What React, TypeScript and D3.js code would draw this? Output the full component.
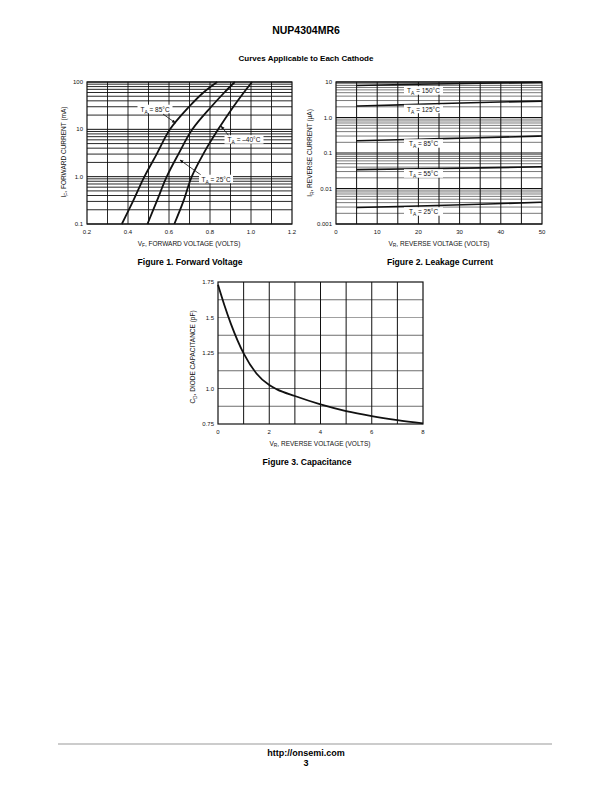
import React, { useEffect, useRef } from "react";
import * as d3 from "d3";

const FONT = "'Liberation Sans', Arial, Helvetica, sans-serif";

// Figure 1: forward voltage (V) read at each forward current (mA)
const fwdCurrent = [0.1, 0.3, 1, 3, 10, 30, 60, 100];
const fwdVolt85 = [0.37, 0.424, 0.48, 0.54, 0.605, 0.698, 0.768, 0.835];
const fwdVolt25 = [0.495, 0.54, 0.589, 0.646, 0.714, 0.806, 0.87, 0.921];
const fwdVoltM40 = [0.626, 0.67, 0.711, 0.767, 0.84, 0.914, 0.965, 1.005];
const fwdXTicks = [0.2, 0.4, 0.6, 0.8, 1.0, 1.2];
const fwdYTicks = [0.1, 1, 10, 100];
const fwdYLabels = ["0.1", "1.0", "10", "100"];

// Figure 2: leakage current (uA) vs reverse voltage
const leakVolt = [5, 20, 35, 50];
const leak150 = [8.0, 8.6, 9.2, 9.8];
const leak125 = [2.1, 2.35, 2.65, 2.9];
const leak85 = [0.222, 0.245, 0.27, 0.3];
const leak55 = [0.034, 0.036, 0.038, 0.041];
const leak25 = [0.0029, 0.0032, 0.0036, 0.0041];
const leakTemps = ["150", "125", "85", "55", "25"];
const leakXTicks = [0, 10, 20, 30, 40, 50];
const leakYTicks = [0.001, 0.01, 0.1, 1, 10];
const leakYLabels = ["0.001", "0.01", "0.1", "1.0", "10"];

// Figure 3: capacitance (pF) vs reverse voltage
const capVolt = [0, 0.25, 0.5, 1, 1.5, 2, 2.3, 3, 4, 5, 6, 7, 8];
const capPf = [1.73, 1.586, 1.457, 1.247, 1.106, 1.024, 0.994, 0.947, 0.888, 0.841, 0.806, 0.778, 0.755];
const capXTicks = [0, 2, 4, 6, 8];
const capYTicks = [0.75, 1.0, 1.25, 1.5, 1.75];
const capYLabels = ["0.75", "1.0", "1.25", "1.5", "1.75"];

// text with a subscript, e.g. T_A = 85°C
const subText = (g, x, y, main, sub, rest, size, anchor = "middle", rotate = false) => {
  const t = g
    .append("text")
    .attr("x", x)
    .attr("y", y)
    .attr("text-anchor", anchor)
    .attr("font-family", FONT)
    .attr("font-size", size)
    .attr("fill", "#111");
  if (rotate) t.attr("transform", `rotate(-90,${x},${y})`);
  t.append("tspan").text(main);
  t.append("tspan").attr("dy", size * 0.3).attr("font-size", size * 0.75).text(sub);
  t.append("tspan").attr("dy", -size * 0.3).text(rest);
  return t;
};

const logMinor = (lo, hi) => {
  const vals = [];
  for (let d = lo; d < hi; d *= 10) {
    for (let k = 2; k <= 9; k++) vals.push(d * k);
  }
  return vals;
};

const App = () => {
  const ref = useRef(null);

  useEffect(() => {
    const svg = d3.select(ref.current);
    svg.selectAll("*").remove();

    svg
      .append("defs")
      .append("marker")
      .attr("id", "arr")
      .attr("viewBox", "0 0 10 10")
      .attr("refX", 9)
      .attr("refY", 5)
      .attr("markerWidth", 5)
      .attr("markerHeight", 5)
      .attr("orient", "auto")
      .append("path")
      .attr("d", "M0,1 L10,5 L0,9 Z")
      .attr("fill", "#111");

    //// Header
    svg
      .append("text")
      .attr("x", 306)
      .attr("y", 34)
      .attr("text-anchor", "middle")
      .attr("font-family", FONT)
      .attr("font-weight", "bold")
      .attr("font-size", 10.5)
      .text("NUP4304MR6");
    svg
      .append("text")
      .attr("x", 306)
      .attr("y", 61)
      .attr("text-anchor", "middle")
      .attr("font-family", FONT)
      .attr("font-weight", "bold")
      .attr("font-size", 8)
      .text("Curves Applicable to Each Cathode");

    const caption = (x, y, s) =>
      svg
        .append("text")
        .attr("x", x)
        .attr("y", y)
        .attr("text-anchor", "middle")
        .attr("font-family", FONT)
        .attr("font-weight", "bold")
        .attr("font-size", 8.6)
        .text(s);

    const tickText = (g, x, y, s, anchor) =>
      g
        .append("text")
        .attr("x", x)
        .attr("y", y)
        .attr("text-anchor", anchor)
        .attr("font-family", FONT)
        .attr("font-size", 6)
        .attr("fill", "#111")
        .text(s);

    const hline = (g, x0, x1, y, color, w) =>
      g.append("line").attr("x1", x0).attr("x2", x1).attr("y1", y).attr("y2", y).attr("stroke", color).attr("stroke-width", w);
    const vline = (g, x, y0, y1, color, w) =>
      g.append("line").attr("x1", x).attr("x2", x).attr("y1", y0).attr("y2", y1).attr("stroke", color).attr("stroke-width", w);

    const labelBox = (g, cx, cy, temp, w) => {
      g.append("rect")
        .attr("x", cx - w / 2)
        .attr("y", cy - 4.8)
        .attr("width", w)
        .attr("height", 8.5)
        .attr("fill", "white");
      subText(g, cx, cy + 2.3, "T", "A", ` = ${temp}°C`, 6.5);
    };

    //// Figure 1
    {
      const g = svg.append("g");
      const x = d3.scaleLinear().domain([0.2, 1.2]).range([87, 292]);
      const y = d3.scaleLog().domain([0.1, 100]).range([224, 82]);

      logMinor(0.1, 100).forEach((v) => hline(g, 87, 292, y(v), "#111", 0.9));
      fwdYTicks.forEach((v) => hline(g, 87, 292, y(v), "#111", 1));
      d3.range(3, 12).forEach((i) => vline(g, x(i / 10), 82, 224, "#111", 0.9));
      g.append("rect").attr("x", 87).attr("y", 82).attr("width", 205).attr("height", 142).attr("fill", "none").attr("stroke", "#111").attr("stroke-width", 1.2);

      const line = d3
        .line()
        .x((d) => x(d[0]))
        .y((d) => y(d[1]))
        .curve(d3.curveCatmullRom.alpha(0.5));
      [fwdVolt85, fwdVolt25, fwdVoltM40].forEach((vs) => {
        g.append("path")
          .datum(vs.map((v, i) => [v, fwdCurrent[i]]))
          .attr("fill", "none")
          .attr("stroke", "#111")
          .attr("stroke-width", 1.8)
          .attr("d", line);
      });

      fwdYTicks.forEach((v, i) => tickText(g, 83, y(v) + 2, fwdYLabels[i], "end"));
      fwdXTicks.forEach((v) => tickText(g, x(v), 234, v.toFixed(1), "middle"));
      subText(g, 189, 245.5, "V", "F", ", FORWARD VOLTAGE (VOLTS)", 6.5);
      subText(g, 66, 152, "I", "F", ", FORWARD CURRENT (mA)", 6.5, "middle", true);

      // annotations
      const arrow = (x1, y1, x2, y2) =>
        g.append("line").attr("x1", x1).attr("y1", y1).attr("x2", x2).attr("y2", y2).attr("stroke", "#111").attr("stroke-width", 0.8).attr("marker-end", "url(#arr)");
      arrow(163, 114, 175.5, 123);
      arrow(229, 136, 221, 126);
      arrow(201, 175, 180, 160);
      labelBox(g, 155, 109.5, "85", 35);
      labelBox(g, 244, 140, "–40", 39);
      labelBox(g, 216, 179.5, "25", 34);

      caption(190, 264.5, "Figure 1. Forward Voltage");
    }

    //// Figure 2
    {
      const g = svg.append("g");
      const x = d3.scaleLinear().domain([0, 50]).range([336, 542]);
      const y = d3.scaleLog().domain([0.001, 10]).range([224, 82]);

      logMinor(0.001, 10).forEach((v) => hline(g, 336, 542, y(v), "#7a7a7a", 1));
      leakYTicks.forEach((v) => hline(g, 336, 542, y(v), "#111", 1));
      d3.range(5, 50, 5).forEach((v) => vline(g, x(v), 82, 224, "#111", 1));
      g.append("rect").attr("x", 336).attr("y", 82).attr("width", 206).attr("height", 142).attr("fill", "none").attr("stroke", "#111").attr("stroke-width", 1.2);

      const line = d3
        .line()
        .x((d) => x(d[0]))
        .y((d) => y(d[1]))
        .curve(d3.curveMonotoneX);
      [leak150, leak125, leak85, leak55, leak25].forEach((vs) => {
        g.append("path")
          .datum(vs.map((v, i) => [leakVolt[i], v]))
          .attr("fill", "none")
          .attr("stroke", "#111")
          .attr("stroke-width", 1.6)
          .attr("d", line);
      });

      const labelY = [91, 109.5, 144, 174, 212];
      leakTemps.forEach((t, i) => labelBox(g, 423.5, labelY[i], t, 39));

      leakYTicks.forEach((v, i) => tickText(g, 332, y(v) + 2, leakYLabels[i], "end"));
      leakXTicks.forEach((v) => tickText(g, x(v), 234, String(v), "middle"));
      subText(g, 439, 245.5, "V", "R", ", REVERSE VOLTAGE (VOLTS)", 6.5);
      subText(g, 312, 153, "I", "R", ", REVERSE CURRENT (µA)", 6.5, "middle", true);

      caption(440, 264.5, "Figure 2. Leakage Current");
    }

    //// Figure 3
    {
      const g = svg.append("g");
      const x = d3.scaleLinear().domain([0, 8]).range([218, 423]);
      const y = d3.scaleLinear().domain([0.75, 1.75]).range([424, 282]);

      d3.range(1, 8).forEach((i) => hline(g, 218, 423, y(0.75 + i * 0.125), i === 6 ? "#a0a0a0" : "#6e6e6e", 1));
      d3.range(1, 8).forEach((v) => vline(g, x(v), 282, 424, "#111", 1));
      g.append("rect").attr("x", 218).attr("y", 282).attr("width", 205).attr("height", 142).attr("fill", "none").attr("stroke", "#111").attr("stroke-width", 1.2);

      const line = d3
        .line()
        .x((d, i) => x(capVolt[i]))
        .y((d) => y(d))
        .curve(d3.curveMonotoneX);
      g.append("path").datum(capPf).attr("fill", "none").attr("stroke", "#111").attr("stroke-width", 1.8).attr("d", line);

      capYTicks.forEach((v, i) => tickText(g, 214, y(v) + 2, capYLabels[i], "end"));
      capXTicks.forEach((v) => tickText(g, x(v), 434, String(v), "middle"));
      subText(g, 320, 445.5, "V", "R", ", REVERSE VOLTAGE (VOLTS)", 6.5);
      subText(g, 195, 357, "C", "D", ", DIODE CAPACITANCE (pF)", 6.5, "middle", true);

      caption(307, 464.5, "Figure 3. Capacitance");
    }

    //// Footer
    hline(svg, 58, 552, 744, "#bbbbbb", 1.5);
    svg.append("text").attr("x", 306).attr("y", 756).attr("text-anchor", "middle").attr("font-family", FONT).attr("font-weight", "bold").attr("font-size", 9).text("http://onsemi.com");
    svg.append("text").attr("x", 306).attr("y", 765.5).attr("text-anchor", "middle").attr("font-family", FONT).attr("font-weight", "bold").attr("font-size", 9).text("3");
  }, []);

  return (
    <svg
      ref={ref}
      width={612}
      height={792}
      style={{ position: "absolute", left: 0, top: 0, background: "white" }}
    ></svg>
  );
};

export default App;
